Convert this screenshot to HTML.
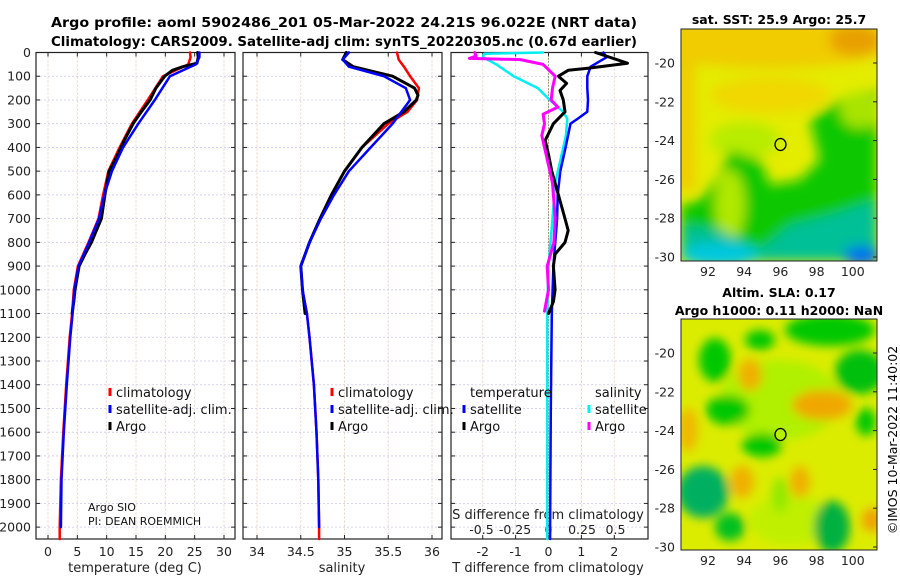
<!DOCTYPE html>
<html><head><meta charset="utf-8"><style>
html,body{margin:0;padding:0;background:#fff;}
svg{display:block;font-family:"DejaVu Sans","Liberation Sans",sans-serif;}
</style></head><body>
<svg id="fig" width="900" height="580" viewBox="0 0 900 580" xmlns="http://www.w3.org/2000/svg">
<defs>
<filter id="blur1" x="-20%" y="-20%" width="140%" height="140%"><feGaussianBlur stdDeviation="6"/></filter>
<filter id="blur2" x="-20%" y="-20%" width="140%" height="140%"><feGaussianBlur stdDeviation="5"/></filter>
<clipPath id="cm1"><rect x="681" y="29" width="196" height="232"/></clipPath>
<clipPath id="cm2"><rect x="681" y="319" width="196" height="231"/></clipPath>
</defs>
<text x="51" y="27" font-size="13" font-weight="bold" textLength="586" lengthAdjust="spacingAndGlyphs">Argo profile: aoml 5902486_201 05-Mar-2022 24.21S 96.022E (NRT data)</text>
<text x="51" y="46" font-size="13" font-weight="bold" textLength="586" lengthAdjust="spacingAndGlyphs">Climatology: CARS2009. Satellite-adj clim: synTS_20220305.nc (0.67d earlier)</text>

<g id="maps">
<g clip-path="url(#cm1)">
<rect x="681" y="29" width="196" height="232" fill="#e4ec00"/>
<g filter="url(#blur1)">
<ellipse cx="770" cy="42" rx="130" ry="26" fill="#f0cc00"/>
<ellipse cx="855" cy="40" rx="26" ry="16" fill="#e8a000"/>
<ellipse cx="770" cy="95" rx="60" ry="18" fill="#f0d800"/>
<rect x="675" y="60" width="20" height="130" fill="#f0cc00"/>
<ellipse cx="745" cy="140" rx="35" ry="18" fill="#b8ec00"/>
<path d="M681,205 L700,200 L720,175 L730,150 L760,160 L770,185 L800,180 L820,160 L810,120 L840,100 L877,90 L877,261 L681,261 Z" fill="#10c800"/>
<ellipse cx="730" cy="205" rx="15" ry="35" fill="#b0e800"/>
<ellipse cx="860" cy="110" rx="20" ry="18" fill="#a8e400"/>
<path d="M681,225 L720,230 L760,250 L790,225 L830,215 L877,200 L877,261 L681,261 Z" fill="#00c098"/>
<ellipse cx="720" cy="255" rx="40" ry="12" fill="#00c8e0"/>
<ellipse cx="862" cy="256" rx="18" ry="10" fill="#0070f0"/>
</g>
</g>
<rect x="681" y="29" width="196" height="232" fill="none" stroke="#222" stroke-width="1"/>
<ellipse cx="780.5" cy="144.5" rx="5.5" ry="6" fill="none" stroke="#000" stroke-width="1.3"/>

<g clip-path="url(#cm2)">
<rect x="681" y="319" width="196" height="231" fill="#dcec00"/>
<g filter="url(#blur2)">
<ellipse cx="780" cy="400" rx="60" ry="40" fill="#b0f000"/>
<ellipse cx="790" cy="520" rx="40" ry="25" fill="#c0f000"/>
<ellipse cx="715" cy="360" rx="16" ry="22" fill="#00c800"/>
<ellipse cx="760" cy="340" rx="15" ry="10" fill="#00c800"/>
<ellipse cx="830" cy="330" rx="45" ry="16" fill="#00c800"/>
<ellipse cx="860" cy="372" rx="25" ry="22" fill="#00c010"/>
<ellipse cx="728" cy="410" rx="22" ry="15" fill="#00c800"/>
<ellipse cx="762" cy="445" rx="20" ry="12" fill="#00c800"/>
<ellipse cx="703" cy="492" rx="26" ry="26" fill="#00b060"/>
<ellipse cx="730" cy="527" rx="15" ry="14" fill="#00c020"/>
<ellipse cx="832" cy="527" rx="18" ry="26" fill="#00b040"/>
<ellipse cx="866" cy="422" rx="10" ry="14" fill="#00c800"/>
<ellipse cx="780" cy="495" rx="8" ry="18" fill="#90e800"/>
<ellipse cx="750" cy="375" rx="12" ry="16" fill="#f0b000"/>
<ellipse cx="822" cy="405" rx="30" ry="15" fill="#f0a800"/>
<ellipse cx="688" cy="430" rx="10" ry="22" fill="#f0b800"/>
<ellipse cx="742" cy="482" rx="12" ry="16" fill="#f0b000"/>
<ellipse cx="800" cy="482" rx="10" ry="16" fill="#f0b000"/>
<ellipse cx="872" cy="520" rx="10" ry="12" fill="#f0a000"/>
</g>
</g>
<rect x="681" y="319" width="196" height="231" fill="none" stroke="#222" stroke-width="1"/>
<ellipse cx="780.5" cy="434.5" rx="5.5" ry="6" fill="#b4f000" stroke="#000" stroke-width="1.3"/>

<text x="779" y="24" font-size="12.5" font-weight="bold" text-anchor="middle">sat. SST: 25.9 Argo: 25.7</text>
<text x="779" y="297" font-size="12.5" font-weight="bold" text-anchor="middle">Altim. SLA: 0.17</text>
<text x="779" y="315" font-size="12.5" font-weight="bold" text-anchor="middle">Argo h1000: 0.11 h2000: NaN</text>
<text transform="translate(897,440) rotate(-90)" font-size="12.5" text-anchor="middle">©IMOS 10-Mar-2022 11:40:02</text>
</g>
<g id="plots"></g>
</svg>
<script>
// ---- data ----
var tDepth   = [0, 20, 50, 100, 200, 300, 400, 500, 600, 700, 800, 900, 1000, 1100, 1200, 1400, 1600, 1800, 2000, 2050];
var tClim    = [24.2, 24.3, 23.9, 19.6, 17.0, 14.3, 12.2, 10.3, 9.4, 8.6, 6.9, 5.1, 4.4, 4.1, 3.7, 3.1, 2.6, 2.2, 2.0, 2.0];
var tSat     = [25.8, 25.8, 25.2, 20.8, 18.2, 15.4, 12.8, 10.9, 9.6, 8.7, 7.0, 5.2, 4.5, 4.2, 3.8, 3.2, 2.7, 2.3, 2.2];
var argoDepth= [0, 20, 45, 60, 75, 100, 150, 200, 250, 300, 370, 450, 500, 600, 700, 800, 850, 900, 1000, 1050, 1100];
var tArgo    = [25.5, 25.6, 25.4, 23.0, 21.2, 19.9, 18.4, 17.4, 15.9, 14.5, 13.0, 11.5, 10.4, 9.7, 9.1, 7.4, 6.3, 5.3, 4.6, 4.4, 4.1];

var sDepth   = [0, 30, 60, 100, 150, 200, 250, 300, 400, 500, 600, 700, 800, 900, 1000, 1100, 1200, 1400, 1600, 1800, 2000, 2050];
var sClim    = [35.60, 35.62, 35.68, 35.75, 35.85, 35.83, 35.72, 35.50, 35.20, 35.00, 34.85, 34.72, 34.60, 34.50, 34.52, 34.57, 34.60, 34.65, 34.68, 34.70, 34.71, 34.71];
var sSat     = [35.05, 34.98, 35.05, 35.45, 35.70, 35.75, 35.65, 35.55, 35.30, 35.05, 34.88, 34.73, 34.60, 34.50, 34.52, 34.57, 34.60, 34.65, 34.68, 34.70, 34.71];
var sArgoDepth=[0, 30, 60, 100, 150, 180, 200, 250, 300, 400, 500, 600, 700, 800, 900, 1000, 1100];
var sArgo    = [35.02, 34.98, 35.10, 35.55, 35.80, 35.84, 35.82, 35.68, 35.45, 35.20, 35.00, 34.85, 34.72, 34.60, 34.50, 34.52, 34.55];

var dTSatDepth = [0, 20, 60, 100, 150, 200, 250, 280, 300, 400, 500, 600, 700, 900, 1100, 1500, 2000, 2050];
var dTSat      = [1.67, 1.77, 1.28, 1.18, 1.18, 1.2, 1.18, 0.88, 0.67, 0.52, 0.36, 0.28, 0.26, 0.15, 0.1, 0.07, 0.05, 0.05];
var dTArgoDepth= [0, 45, 66, 75, 100, 130, 160, 200, 250, 300, 370, 430, 500, 600, 700, 750, 800, 850, 900, 1000, 1050, 1100];
var dTArgo     = [1.43, 2.4, 1.2, 0.6, 0.3, 0.55, 0.35, 0.45, 0.5, 0.15, -0.1, 0.0, 0.1, 0.3, 0.5, 0.6, 0.5, 0.2, 0.15, 0.2, 0.15, 0.0];
var dSSatDepth = [0, 5, 20, 50, 100, 150, 200, 250, 280, 350, 450, 550, 700, 900, 1100, 1500, 2000, 2050];
var dSSat      = [-0.04, -0.48, -0.49, -0.39, -0.26, -0.08, 0.01, 0.11, 0.14, 0.13, 0.09, 0.05, 0.03, 0.0, -0.01, -0.01, -0.01, -0.01];
var dSArgoDepth= [0, 15, 25, 30, 50, 100, 150, 200, 230, 260, 300, 350, 450, 550, 700, 800, 900, 1000, 1090];
var dSArgo     = [-0.55, -0.54, -0.59, -0.21, -0.04, 0.05, 0.03, 0.02, 0.07, -0.04, -0.03, -0.05, -0.01, 0.03, 0.05, 0.04, -0.01, 0.0, -0.03];

var depthTicks = [0,100,200,300,400,500,600,700,800,900,1000,1100,1200,1300,1400,1500,1600,1700,1800,1900,2000];
var tTicks = [0,5,10,15,20,25,30];
var sTicks = [34,34.5,35,35.5,36];
var sTickLabels = ["34","34.5","35","35.5","36"];
var dTTicks = [-2,-1,0,1,2];
var dSTicks = [-0.5,-0.25,0,0.25,0.5];
var dSTickLabels = ["-0.5","-0.25","0","0.25","0.5"];

// ---- scales ----
var Y0 = 52.5, YB = 539, DMAX = 2050;
function yD(d){ return Y0 + d*(YB-Y0)/DMAX; }
function xT(v){ return 48 + v*(224-48)/30; }
function xS(v){ return 257 + (v-34)*(432-257)/2; }
function xDT(v){ return 548.5 + v*32.9; }
function xDS(v){ return 548.5 + v*134; }

var NS = "http://www.w3.org/2000/svg";
var root = document.getElementById('plots');
function el(tag, attrs, parent){
  var e = document.createElementNS(NS, tag);
  for (var k in attrs) e.setAttribute(k, attrs[k]);
  (parent||root).appendChild(e);
  return e;
}
function txt(s, attrs, parent){ var t = el('text', attrs, parent); t.textContent = s; return t; }

var panels = [
  {x0:36, x1:235, name:'temperature'},
  {x0:243, x1:442, name:'salinity'},
  {x0:451, x1:648, name:'difference'}
];

function gridAndFrame(p, xticks, xf){
  var g = el('g', {});
  
  
  depthTicks.forEach(function(d){
    el('line', {x1:p.x0, x2:p.x1, y1:yD(d), y2:yD(d), stroke:'#c8c8ec', 'stroke-width':0.8, 'stroke-dasharray':'2,2'}, g);
    el('line', {x1:p.x0, x2:p.x0+4, y1:yD(d), y2:yD(d), stroke:'#222', 'stroke-width':1}, g);
    el('line', {x1:p.x1-4, x2:p.x1, y1:yD(d), y2:yD(d), stroke:'#222', 'stroke-width':1}, g);
  });
  xticks.forEach(function(v){
    var x = xf(v);
    el('line', {x1:x, x2:x, y1:Y0, y2:YB, stroke:'#e8c8b8', 'stroke-width':0.8, 'stroke-dasharray':'2,2'}, g);
    el('line', {x1:x, x2:x, y1:Y0, y2:Y0+4, stroke:'#222', 'stroke-width':1}, g);
    el('line', {x1:x, x2:x, y1:YB-4, y2:YB, stroke:'#222', 'stroke-width':1}, g);
  });
  var f = el('rect', {x:p.x0, y:Y0, width:p.x1-p.x0, height:YB-Y0, fill:'none', stroke:'#222', 'stroke-width':1.2});
  
  
}
gridAndFrame(panels[0], tTicks, xT);
gridAndFrame(panels[1], sTicks, xS);
gridAndFrame(panels[2], dTTicks, xDT);

var zl = el('line', {x1:xDT(0), x2:xDT(0), y1:Y0, y2:YB, stroke:'#555533', 'stroke-width':1, 'stroke-dasharray':'1,2'});



depthTicks.forEach(function(d){
  var t = txt(String(d), {x:31, y:yD(d)+4.5, 'font-size':12.5, 'text-anchor':'end', fill:'#222'});
  
  
});

tTicks.forEach(function(v){
  var t = txt(String(v), {x:xT(v), y:556, 'font-size':12.5, 'text-anchor':'middle', fill:'#222'});
  
  
});
sTicks.forEach(function(v,i){
  var t = txt(sTickLabels[i], {x:xS(v), y:556, 'font-size':12.5, 'text-anchor':'middle', fill:'#222'});
  
  
});
dTTicks.forEach(function(v){
  var t = txt(String(v), {x:xDT(v), y:556, 'font-size':12.5, 'text-anchor':'middle', fill:'#222'});
  
  
});
dSTicks.forEach(function(v,i){
  var t = txt(dSTickLabels[i], {x:xDS(v), y:534, 'font-size':12.5, 'text-anchor':'middle', fill:'#222'});
  
  
});
var xl;
xl = txt('temperature (deg C)', {x:135, y:572, 'font-size':13, 'text-anchor':'middle', fill:'#222'});


xl = txt('salinity', {x:342, y:572, 'font-size':13, 'text-anchor':'middle', fill:'#222'});


xl = txt('T difference from climatology', {x:548, y:572, 'font-size':13, 'text-anchor':'middle', fill:'#222'});


xl = txt('S difference from climatology', {x:548, y:519, 'font-size':13, 'text-anchor':'middle', fill:'#222'});



var mapLat = [-20,-22,-24,-26,-28,-30];
var mapLon = [92,94,96,98,100];
function mLatY(l, top){ return top + (-20 - l)*19.4; }
function mLonX(l){ return 708 + (l-92)*18.1; }
[[63,276],[353,565]].forEach(function(m){
  mapLat.forEach(function(l){
    var y = mLatY(l, m[0]);
    var t = txt(String(l), {x:675, y:y+4.5, 'font-size':12.5, 'text-anchor':'end', fill:'#222'});
    
    
    el('line', {x1:873, x2:877, y1:y, y2:y, stroke:'#222'});
  });
  mapLon.forEach(function(l){
    var t = txt(String(l), {x:mLonX(l), y:m[1], 'font-size':12.5, 'text-anchor':'middle', fill:'#222'});
    
    
  });
});

function line(depths, vals, xf, color, w, name){
  var d = '';
  for (var i=0;i<vals.length && i<depths.length;i++){
    d += (i?'L':'M') + xf(vals[i]).toFixed(1) + ',' + yD(depths[i]).toFixed(1);
  }
  var p = el('path', {d:d, fill:'none', stroke:color, 'stroke-width':w, 'stroke-linejoin':'round', 'stroke-linecap':'round'});
  
  
}
line(tDepth, tClim, xT, '#ff0000', 2.5, 'temperature-climatology-line');
line(argoDepth, tArgo, xT, '#000000', 3, 'temperature-argo-line');
line(tDepth, tSat, xT, '#0000ff', 2.5, 'temperature-satellite-line');
line(sDepth, sClim, xS, '#ff0000', 2.5, 'salinity-climatology-line');
line(sArgoDepth, sArgo, xS, '#000000', 3, 'salinity-argo-line');
line(sDepth, sSat, xS, '#0000ff', 2.5, 'salinity-satellite-line');
line(dSSatDepth, dSSat, xDS, '#00f0f0', 2.5, 's-diff-satellite-line');
line(dTSatDepth, dTSat, xDT, '#0000ff', 2.5, 't-diff-satellite-line');
line(dTArgoDepth, dTArgo, xDT, '#000000', 3, 't-diff-argo-line');
line(dSArgoDepth, dSArgo, xDS, '#ff00ff', 3, 's-diff-argo-line');

function legEntry(x, y, color, label, name){
  var g = el('g', {});
  
  
  el('line', {x1:x, x2:x, y1:y-9, y2:y-1, stroke:color, 'stroke-width':3}, g);
  txt(label, {x:x+6, y:y, 'font-size':13, fill:'#111'}, g);
}
legEntry(110, 397, '#ff0000', 'climatology', 'legend-climatology');
legEntry(110, 414, '#0000ff', 'satellite-adj. clim.', 'legend-satellite');
legEntry(110, 431, '#000000', 'Argo', 'legend-argo');
legEntry(332, 397, '#ff0000', 'climatology', 'legend-s-climatology');
legEntry(332, 414, '#0000ff', 'satellite-adj. clim.', 'legend-s-satellite');
legEntry(332, 431, '#000000', 'Argo', 'legend-s-argo');
var lt = txt('temperature', {x:470, y:397, 'font-size':13, fill:'#111'});


lt = txt('salinity', {x:595, y:397, 'font-size':13, fill:'#111'});


legEntry(464, 414, '#0000ff', 'satellite', 'legend-t-satellite');
legEntry(464, 431, '#000000', 'Argo', 'legend-t-argo');
legEntry(589, 414, '#00f0f0', 'satellite', 'legend-s-satellite-diff');
legEntry(589, 431, '#ff00ff', 'Argo', 'legend-s-argo-diff');

var a = txt('Argo SIO', {x:88, y:511, 'font-size':11, fill:'#111'});


a = txt('PI: DEAN ROEMMICH', {x:88, y:525, 'font-size':11, fill:'#111'});


</script>
</body></html>
